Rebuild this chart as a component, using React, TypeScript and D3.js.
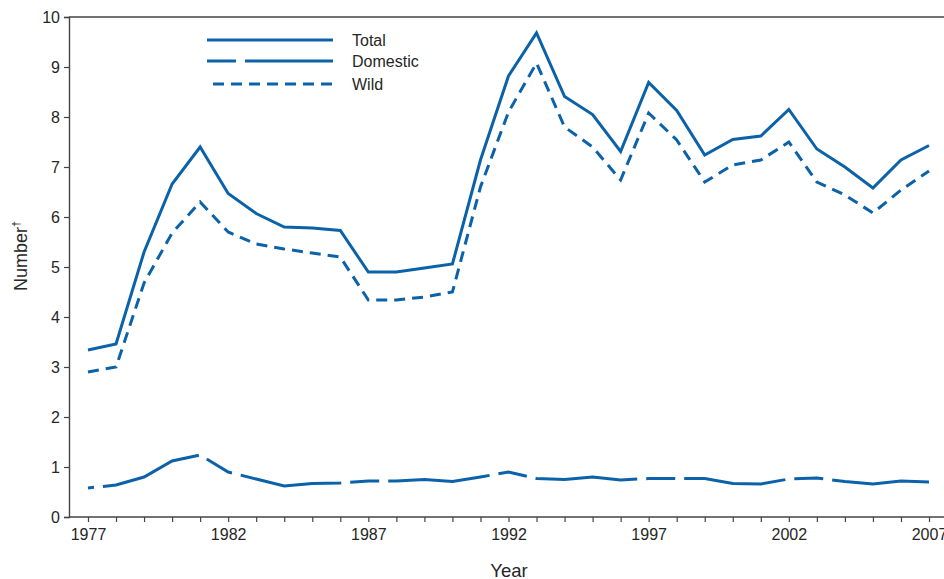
import React, { useEffect, useRef } from 'react';
import * as d3 from 'd3';

const years = d3.range(1977, 2008);

const totalValues = [
  3.34, 3.46, 5.3, 6.66, 7.4, 6.47, 6.07, 5.8, 5.78, 5.73,
  4.9, 4.9, 4.98, 5.06, 7.14, 8.82, 9.68, 8.41, 8.05, 7.31,
  8.69, 8.13, 7.24, 7.55, 7.62, 8.15, 7.36, 7.0, 6.58, 7.14, 7.43
];

const domesticValues = [
  0.58, 0.64, 0.8, 1.12, 1.24, 0.9, 0.76, 0.62, 0.67, 0.68,
  0.72, 0.72, 0.75, 0.71, 0.8, 0.9, 0.77, 0.75, 0.8, 0.74,
  0.77, 0.77, 0.77, 0.67, 0.66, 0.76, 0.78, 0.71, 0.66, 0.72, 0.7
];

const wildValues = [
  2.9, 3.0, 4.68, 5.68, 6.3, 5.7, 5.46, 5.36, 5.28, 5.2,
  4.34, 4.34, 4.4, 4.5, 6.6, 8.1, 9.08, 7.8, 7.4, 6.74,
  8.08, 7.54, 6.7, 7.04, 7.14, 7.5, 6.7, 6.44, 6.08, 6.54, 6.92
];

const yTicks = [0, 1, 2, 3, 4, 5, 6, 7, 8, 9, 10];
const xLabelYears = [1977, 1982, 1987, 1992, 1997, 2002, 2007];

const seriesNames = ['Total', 'Domestic', 'Wild'];

const BLUE = '#0b62a9';
const INK = '#262626';
const FONT = '"Liberation Sans", Arial, Helvetica, sans-serif';

const dashFor: Record<string, string | null> = {
  Total: null,
  Domestic: '29,9,102,9',
  Wild: '11,7'
};

export default function App() {
  const svgRef = useRef<SVGSVGElement>(null);

  useEffect(() => {
    if (!svgRef.current) return;
    const svg = d3.select(svgRef.current);
    svg.selectAll('*').remove();

    const width = 944;
    const axisX = 69;
    const x = d3.scaleLinear().domain([1977, 2007]).range([88, 929]);
    const y = d3.scaleLinear().domain([0, 10]).range([517, 17]);

    // frame: top line and x baseline run off the right edge
    svg.append('line')
      .attr('x1', axisX).attr('x2', width)
      .attr('y1', y(10)).attr('y2', y(10))
      .attr('stroke', '#444').attr('stroke-width', 1.4);

    // y axis
    const yAxis = svg.append('g')
      .attr('transform', `translate(${axisX},0)`)
      .call(d3.axisLeft(y).tickValues(yTicks).tickSize(5).tickPadding(4).tickFormat(d3.format('d')));
    yAxis.select('.domain').attr('stroke', '#444').attr('stroke-width', 1.4);
    yAxis.selectAll('.tick line').attr('stroke', '#444').attr('stroke-width', 1.2);
    yAxis.selectAll('.tick text')
      .attr('fill', INK).style('font-family', FONT).style('font-size', '16px');

    // x axis
    const xAxis = svg.append('g')
      .attr('transform', `translate(0,${y(0)})`)
      .call(d3.axisBottom(x).tickValues(years).tickSize(5).tickPadding(7)
        .tickFormat(d => (xLabelYears.includes(+d) ? String(d) : '')));
    xAxis.select('.domain').remove();
    xAxis.append('line')
      .attr('x1', axisX).attr('x2', width)
      .attr('stroke', '#444').attr('stroke-width', 1.4);
    xAxis.selectAll('.tick line').attr('stroke', '#444').attr('stroke-width', 1.2);
    xAxis.selectAll('.tick text')
      .attr('fill', INK).style('font-family', FONT).style('font-size', '16px');

    const seriesData: Record<string, number[]> = {
      Total: totalValues,
      Domestic: domesticValues,
      Wild: wildValues
    };

    const line = d3.line<number>()
      .x((_, i) => x(years[i]))
      .y(d => y(d));

    seriesNames.forEach(name => {
      const p = svg.append('path')
        .attr('d', line(seriesData[name]))
        .attr('fill', 'none')
        .attr('stroke', BLUE)
        .attr('stroke-width', 3)
        .attr('stroke-linejoin', 'miter');
      if (dashFor[name]) p.attr('stroke-dasharray', dashFor[name]);
      if (name === 'Domestic') p.attr('stroke-dashoffset', 23);
    });

    // legend
    const legendRows = [40, 61, 84];
    seriesNames.forEach((name, i) => {
      const ly = legendRows[i];
      const l = svg.append('line')
        .attr('x1', name === 'Wild' ? 213 : 207).attr('x2', 333)
        .attr('y1', ly).attr('y2', ly)
        .attr('stroke', BLUE).attr('stroke-width', 3);
      if (dashFor[name]) l.attr('stroke-dasharray', dashFor[name]);
      svg.append('text')
        .attr('x', 352).attr('y', ly + 6)
        .attr('fill', INK)
        .style('font-family', FONT).style('font-size', '16px')
        .text(name);
    });

    // axis titles
    const yTitle = svg.append('text')
      .attr('transform', 'translate(27,291) rotate(-90)')
      .attr('fill', INK)
      .style('font-family', FONT).style('font-size', '18px');
    yTitle.append('tspan').text('Number');
    yTitle.append('tspan').attr('dy', -7).style('font-size', '11px').text('†');

    svg.append('text')
      .attr('x', 509).attr('y', 577)
      .attr('text-anchor', 'middle')
      .attr('fill', INK)
      .style('font-family', FONT).style('font-size', '18.5px')
      .text('Year');
  }, []);

  return (
    <svg
      ref={svgRef}
      width={944}
      height={579}
      style={{ position: 'absolute', left: 0, top: 0, background: '#fff', display: 'block' }}
    />
  );
}
